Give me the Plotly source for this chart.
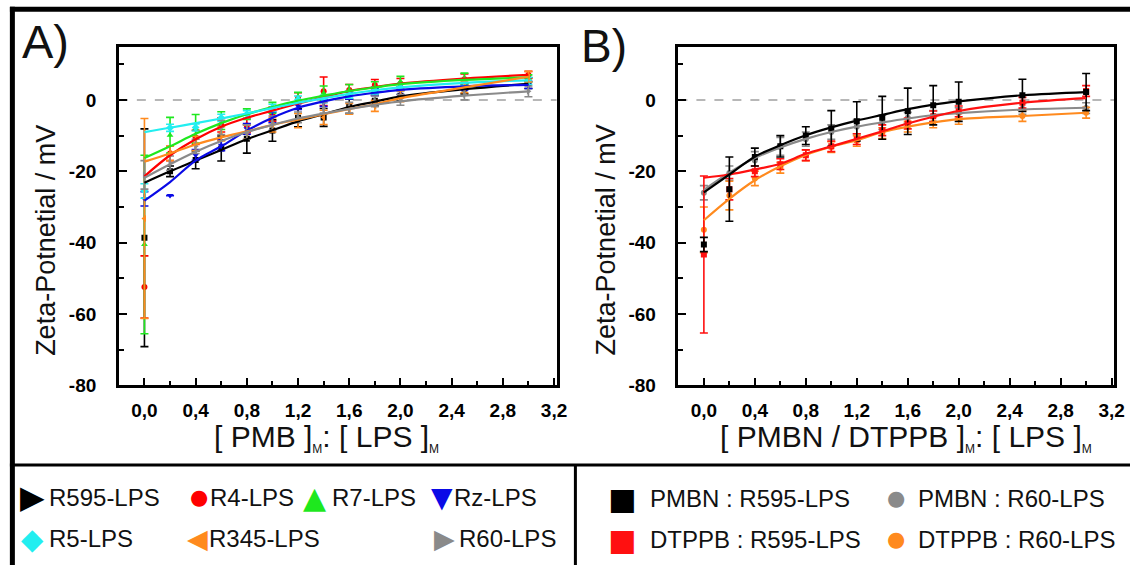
import plotly.graph_objects as go

W, H = 1141, 576

# ---------------- data ----------------
X = [0.0, 0.2, 0.4, 0.6, 0.8, 1.0, 1.2, 1.4, 1.6, 1.8, 2.0, 2.5, 3.0]

# Panel A  (points, error, fitted curve read at the same x)
a_r595_y = [-38.6, -20.0, -16.8, -13.6, -10.9, -8.6, -5.0, -4.9, -1.8, -0.2, 1.2, 3.2, 4.7]
a_r595_e = [30.5, 1.5, 2.5, 3.5, 4.0, 3.0, 2.5, 2.5, 2.0, 1.5, 1.5, 1.5, 1.5]
a_r595_f = [-23.2, -20.0, -17.0, -14.0, -11.0, -8.5, -6.0, -4.0, -2.0, -0.5, 1.0, 3.0, 4.5]

a_r4_y = [-52.4, -15.0, -10.5, -7.0, -7.2, -4.0, 0.5, 2.4, 2.8, 4.2, 4.5, 5.8, 7.0]
a_r4_e = [8.7, 2.0, 2.0, 2.0, 2.0, 2.0, 1.5, 4.0, 1.5, 1.5, 1.5, 1.5, 1.0]
a_r4_f = [-21.4, -15.5, -11.0, -7.5, -5.0, -3.0, -1.0, 0.8, 2.5, 3.6, 4.6, 6.0, 7.0]

a_r7_y = [-40.5, -9.9, -8.1, -5.8, -4.0, -2.2, 0.6, 1.9, 2.8, 3.6, 5.1, 6.0, 6.0]
a_r7_e = [25.0, 5.0, 4.0, 2.5, 1.5, 1.5, 1.5, 2.0, 1.5, 1.5, 1.5, 1.5, 1.0]
a_r7_f = [-16.3, -13.0, -9.5, -6.5, -4.0, -2.0, -0.2, 1.2, 2.5, 3.5, 4.4, 5.6, 6.3]

a_rz_y = [-27.7, -26.8, -15.4, -12.7, -8.1, -4.9, -1.7, -0.8, 1.2, 2.2, 2.5, 3.8, 4.2]
a_rz_e = [2.0, 0.0, 1.5, 1.5, 1.5, 1.5, 1.0, 1.0, 1.0, 1.0, 1.0, 1.0, 1.0]
a_rz_f = [-28.2, -23.0, -17.0, -13.0, -8.6, -5.0, -2.2, -0.4, 1.0, 2.0, 2.8, 3.8, 4.2]

a_r5_y = [-25.5, -7.8, -7.7, -5.0, -4.0, -2.2, 0.1, 0.2, 1.5, 2.7, 3.6, 5.0, 5.3]
a_r5_e = [2.0, 1.0, 1.0, 1.0, 1.0, 1.0, 1.0, 1.0, 1.0, 1.0, 1.0, 1.0, 1.0]
a_r5_f = [-9.0, -7.8, -6.5, -5.2, -3.8, -2.3, -0.8, 0.5, 1.7, 2.7, 3.5, 4.8, 5.5]

a_r345_y = [-33.2, -15.0, -12.2, -9.5, -9.0, -7.0, -5.8, -4.9, -2.5, -1.7, 1.0, 3.5, 6.5]
a_r345_e = [28.0, 2.0, 2.0, 2.0, 2.0, 2.0, 2.0, 2.0, 1.5, 1.5, 1.5, 1.5, 1.5]
a_r345_f = [-17.3, -15.0, -12.5, -10.5, -8.8, -7.0, -5.5, -4.0, -2.5, -1.2, 0.5, 3.5, 6.5]

a_r60_y = [-21.0, -17.7, -13.0, -7.7, -9.0, -6.5, -4.9, -2.2, -2.2, -0.4, 0.0, 1.5, 2.4]
a_r60_e = [4.0, 2.0, 2.0, 2.0, 2.0, 2.0, 1.5, 1.5, 1.5, 1.5, 1.5, 1.5, 1.5]
a_r60_f = [-21.8, -18.0, -14.5, -11.5, -9.0, -7.0, -5.2, -3.8, -2.5, -1.4, -0.4, 1.2, 2.4]

# Panel B
b_pmbn595_y = [-40.5, -25.0, -16.0, -13.0, -10.0, -8.0, -6.0, -5.0, -3.2, -1.5, -0.5, 1.3, 2.2]
b_pmbn595_e = [2.0, 9.0, 2.5, 3.0, 2.5, 5.0, 5.5, 6.0, 6.5, 5.5, 5.5, 4.5, 5.2]
b_pmbn595_f = [-25.9, -20.9, -15.9, -12.7, -9.9, -7.7, -5.8, -4.2, -2.6, -1.3, -0.4, 1.3, 2.2]

b_pmbn60_y = [-26.0, -20.5, -17.0, -13.0, -11.0, -9.0, -7.5, -6.3, -5.0, -4.5, -3.7, -2.5, -2.3]
b_pmbn60_e = [2.0, 2.0, 2.5, 2.5, 2.0, 2.0, 2.0, 2.0, 1.5, 1.5, 1.5, 1.5, 1.5]
b_pmbn60_f = [-25.2, -20.4, -16.3, -13.3, -10.9, -9.0, -7.5, -6.3, -5.2, -4.3, -3.7, -2.7, -2.2]

b_dtppb595_y = [-43.3, -25.0, -20.0, -18.0, -15.5, -13.0, -11.0, -8.5, -6.6, -4.6, -3.2, -0.8, 2.5]
b_dtppb595_e = [22.0, 3.0, 1.5, 1.5, 1.5, 1.5, 1.5, 1.5, 1.5, 1.5, 1.5, 1.5, 1.5]
b_dtppb595_f = [-21.8, -20.9, -19.5, -17.9, -15.1, -13.0, -10.9, -8.8, -6.6, -4.7, -3.1, -0.8, 0.5]

b_dtppb60_y = [-36.4, -26.8, -22.0, -19.0, -15.5, -13.2, -11.5, -9.3, -7.5, -6.3, -5.3, -4.5, -3.6]
b_dtppb60_e = [6.4, 4.0, 2.0, 1.5, 1.5, 1.5, 1.5, 1.5, 1.5, 1.5, 1.5, 1.5, 1.5]
b_dtppb60_f = [-33.7, -27.7, -22.5, -18.6, -15.4, -13.1, -11.3, -9.0, -7.5, -6.3, -5.4, -4.5, -3.6]

x_tickvals = [0.0, 0.4, 0.8, 1.2, 1.6, 2.0, 2.4, 2.8, 3.2]
x_ticktext = ["0,0", "0,4", "0,8", "1,2", "1,6", "2,0", "2,4", "2,8", "3,2"]
y_tickvals = [-80, -60, -40, -20, 0]
y_ticktext = ["-80", "-60", "-40", "-20", "0"]

series_a = [
    ("R595-LPS", a_r595_y, a_r595_e, a_r595_f, "#000000", "square", "\u25B6"),
    ("R4-LPS", a_r4_y, a_r4_e, a_r4_f, "#ff0000", "circle", "\u25CF"),
    ("R7-LPS", a_r7_y, a_r7_e, a_r7_f, "#1ee81e", "triangle-up", "\u25B2"),
    ("Rz-LPS", a_rz_y, a_rz_e, a_rz_f, "#0a0ae6", "triangle-down", "\u25BC"),
    ("R5-LPS", a_r5_y, a_r5_e, a_r5_f, "#22eef0", "diamond", "\u25C6"),
    ("R345-LPS", a_r345_y, a_r345_e, a_r345_f, "#ff8a1e", "triangle-left", "\u25C0"),
    ("R60-LPS", a_r60_y, a_r60_e, a_r60_f, "#8a8a8a", "triangle-right", "\u25B6"),
]
series_b = [
    ("PMBN : R60-LPS", b_pmbn60_y, b_pmbn60_e, b_pmbn60_f, "#8a8a8a", "circle", "\u25CF"),
    ("DTPPB : R60-LPS", b_dtppb60_y, b_dtppb60_e, b_dtppb60_f, "#ff8a1e", "circle", "\u25CF"),
    ("DTPPB : R595-LPS", b_dtppb595_y, b_dtppb595_e, b_dtppb595_f, "#ff1010", "square", "\u25A0"),
    ("PMBN : R595-LPS", b_pmbn595_y, b_pmbn595_e, b_pmbn595_f, "#000000", "square", "\u25A0"),
]

FONT = "Liberation Sans, Arial, sans-serif"
GFONT = "DejaVu Sans, sans-serif"

fig = go.Figure()


def add_series(series, xa, ya):
    for name, y, e, f, col, sym, _ in series:
        fig.add_trace(go.Scatter(
            x=X, y=y, mode="markers", xaxis=xa, yaxis=ya, showlegend=False,
            marker=dict(color=col, size=6, symbol=sym),
            error_y=dict(type="data", array=e, color=col, thickness=1.6, width=4),
            name=name))
    for name, y, e, f, col, sym, _ in series:
        fig.add_trace(go.Scatter(
            x=X, y=f, mode="lines", xaxis=xa, yaxis=ya, showlegend=False,
            line=dict(color=col, width=2.2, shape="spline", smoothing=1.0),
            hoverinfo="skip", name=name + " fit"))


add_series(series_a, "x", "y")
add_series(series_b, "x2", "y2")


def px(x):
    return x / W


def py(y):
    return 1 - y / H


ydom = [py(393), py(48)]
axis_common = dict(
    showline=True, linecolor="black", linewidth=2.5, mirror=True,
    ticks="inside", ticklen=8, tickwidth=2, tickcolor="black",
    showgrid=False, zeroline=False,
    tickfont=dict(family=FONT, size=19, color="black", weight="bold"),
)
xaxis_common = dict(axis_common, range=[-0.2, 3.22], tickmode="array",
                    tickvals=x_tickvals, ticktext=x_ticktext, ticklabelstandoff=6,
                    minor=dict(tickmode="linear", tick0=0, dtick=0.2, ticks="inside",
                               ticklen=5, tickwidth=2, tickcolor="black"))
yaxis_common = dict(axis_common, range=[-80, 14.8], tickmode="array",
                    tickvals=y_tickvals, ticktext=y_ticktext, ticklabelstandoff=16,
                    minor=dict(tickmode="linear", tick0=0, dtick=10, ticks="inside",
                               ticklen=5, tickwidth=2, tickcolor="black"))

fig.update_layout(
    width=W, height=H, margin=dict(l=0, r=0, t=0, b=0),
    paper_bgcolor="white", plot_bgcolor="white",
    xaxis=dict(xaxis_common, domain=[px(120), px(562)], anchor="y"),
    yaxis=dict(yaxis_common, domain=ydom, anchor="x"),
    xaxis2=dict(xaxis_common, domain=[px(685), px(1125)], anchor="y2"),
    yaxis2=dict(yaxis_common, domain=ydom, anchor="x2"),
    showlegend=False,
)

shapes = []
# zero dashed reference lines
for xr, yr in (("x domain", "y"), ("x2 domain", "y2")):
    shapes.append(dict(type="line", xref=xr, yref=yr, x0=0, x1=1, y0=0, y1=0,
                       line=dict(color="#a0a0a0", width=1.5, dash="dash"), layer="below"))
# outer frame
frame = [
    (10, 9.5, W, 9.5, 5),
    (12.5, 7, 12.5, H, 5),
    (10, 474, W, 474, 3),
    (581, 474, 581, H, 3),
]
for x0, y0, x1, y1, w in frame:
    shapes.append(dict(type="line", xref="paper", yref="paper",
                       x0=px(x0), y0=py(y0), x1=px(x1), y1=py(y1),
                       line=dict(color="black", width=w)))
fig.update_layout(shapes=shapes)

ann = []


def text(x, y, s, size, anchor="center", angle=0, color="#111111", family=FONT):
    ann.append(dict(x=px(x), y=py(y), xref="paper", yref="paper", text=s,
                    showarrow=False, xanchor=anchor, yanchor="middle",
                    textangle=angle, font=dict(family=family, size=size, color=color)))


# panel labels
text(46, 42, "A)", 47)
text(610, 47, "B)", 46)
# axis titles
text(47, 245, "Zeta-Potnetial / mV", 27, angle=-90)
text(612, 245, "Zeta-Potnetial / mV", 27, angle=-90)
sub = "<sub><span style='font-size:12px'>M</span></sub>"
text(330, 447, "[ PMB ]" + sub + ": [ LPS ]" + sub, 30)
text(915, 447, "[ PMBN / DTPPB ]" + sub + ": [ LPS ]" + sub, 30)

# legend A: (series index, glyph centre x, text left x, row y, glyph size)
leg_a = [
    (0, 33, 47, 507, 32), (1, 201, 210, 507, 21), (2, 318, 333, 507, 30), (3, 446, 456, 507, 28),
    (4, 33, 47, 549, 29), (5, 199, 209, 549, 27), (6, 449, 461, 549, 27),
]
for i, sx, tx, ry, gs in leg_a:
    name, _, _, _, col, _, glyph = series_a[i]
    text(sx, ry, glyph, gs, color=col, family=GFONT)
    text(tx, ry, name, 24, anchor="left")

leg_b = [
    (3, 628, 654, 508, 30), (0, 905, 925, 508, 21),
    (2, 628, 654, 550, 30), (1, 905, 925, 550, 21),
]
for i, sx, tx, ry, gs in leg_b:
    name, _, _, _, col, _, glyph = series_b[i]
    text(sx, ry, glyph, gs, color=col, family=GFONT)
    text(tx, ry, name, 24, anchor="left")

fig.update_layout(annotations=ann)

fig.write_html("out.html", config={"displayModeBar": False},
               post_script="document.body.style.margin='0';document.body.style.padding='0';")
